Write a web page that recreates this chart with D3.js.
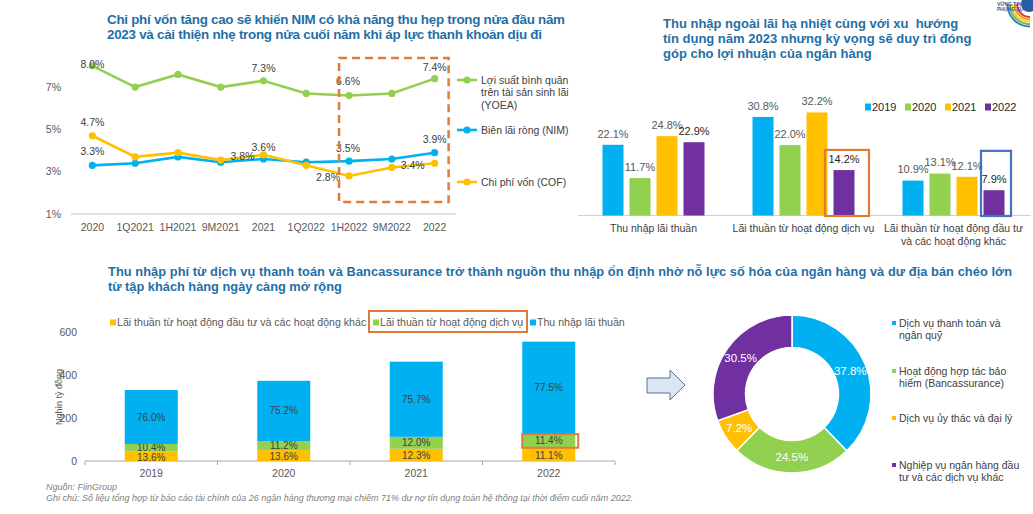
<!DOCTYPE html>
<html><head><meta charset="utf-8">
<script src="https://cdn.jsdelivr.net/npm/d3@7"></script>
<style>body{margin:0;background:#fff}svg{display:block;font-family:"Liberation Sans",Arial,sans-serif}</style>
</head><body><svg id="c" width="1033" height="514"></svg>
<script>
// ---------- DATA ----------
const lineCategories = ["2020","1Q2021","1H2021","9M2021","2021","1Q2022","1H2022","9M2022","2022"];
const yoeaValues = [8.0, 7.0, 7.6, 7.0, 7.3, 6.7, 6.6, 6.7, 7.4];
const nimValues  = [3.3, 3.4, 3.7, 3.45, 3.6, 3.45, 3.5, 3.6, 3.9];
const cofValues  = [4.7, 3.7, 3.9, 3.55, 3.8, 3.3, 2.8, 3.2, 3.4];
const lineTicks = [1, 3, 5, 7];
const lineSeriesNames = ["Lợi suất bình quân trên tài sản sinh lãi (YOEA)", "Biên lãi ròng (NIM)", "Chi phí vốn (COF)"];

const barGroups = ["Thu nhập lãi thuần", "Lãi thuần từ hoạt động dịch vụ", "Lãi thuần từ hoạt động đầu tư và các hoạt động khác"];
const barYears = ["2019", "2020", "2021", "2022"];
const bar2019 = [22.1, 30.8, 10.9];
const bar2020 = [11.7, 22.0, 13.1];
const bar2021 = [24.8, 32.2, 12.1];
const bar2022 = [22.9, 14.2, 7.9];

const stackYears = ["2019", "2020", "2021", "2022"];
const stackTotals = [330, 373, 462, 555];
const shareOther   = [13.6, 13.6, 12.3, 11.1];
const shareService = [10.4, 11.2, 12.0, 11.4];
const shareNII     = [76.0, 75.2, 75.7, 77.5];
const stackTicks = [0, 200, 400, 600];
const stackSeriesNames = ["Lãi thuần từ hoạt động đầu tư và các hoạt động khác", "Lãi thuần từ hoạt động dịch vụ", "Thu nhập lãi thuần"];

const donutLabels = ["Dịch vụ thanh toán và ngân quỹ", "Hoạt động hợp tác bảo hiểm (Bancassurance)", "Dịch vụ ủy thác và đại lý", "Nghiệp vụ ngân hàng đầu tư và các dịch vụ khác"];
const donutValues = [37.8, 24.5, 7.2, 30.5];

// ---------- STYLE ----------
const COL = {green:"#92d050", blue:"#00b0f0", yellow:"#ffc000", purple:"#7030a0", orange:"#e07b39", title:"#1f6fa6", txt:"#595959", dark:"#404040"};
const svg = d3.select("#c");
const fmt = v => v.toFixed(1) + "%";

function wrap(sel, width, lh) {
  sel.each(function() {
    const t = d3.select(this), words = t.text().split(/\s+/), x = t.attr("x"), y = +t.attr("y"), dy = t.attr("dy") || 0;
    t.text(null).attr("dy", null);
    let line = [], n = 0;
    let ts = t.append("tspan").attr("x", x).attr("y", y).attr("dy", dy);
    for (const w of words) {
      line.push(w); ts.text(line.join(" "));
      if (ts.node().getComputedTextLength() > width && line.length > 1) {
        line.pop(); ts.text(line.join(" ")); line = [w]; n++;
        ts = t.append("tspan").attr("x", x).attr("y", y + n * lh).attr("dy", dy).text(w);
      }
    }
  });
}

// ---------- TITLES ----------
function title(x, y, lines, fs, lens) {
  svg.append("text").attr("font-weight", "bold").attr("font-size", fs).attr("fill", COL.title).style("white-space", "pre")
    .selectAll("tspan").data(lines).join("tspan").attr("x", x).attr("y", (d, i) => y + i * 15)
    .attr("textLength", (d, i) => lens && lens[i] ? lens[i] : null).attr("lengthAdjust", "spacing").text(d => d);
}
title(107, 24, ["Chi phí vốn tăng cao sẽ khiến NIM có khả năng thu hẹp trong nửa đầu năm", "2023 và cải thiện nhẹ trong nửa cuối năm khi áp lực thanh khoản dịu đi"], 13.4, [458, 435]);
title(663, 28, ["Thu nhập ngoài lãi hạ nhiệt cùng với xu  hướng", "tín dụng năm 2023 nhưng kỳ vọng sẽ duy trì đóng", "góp cho lợi nhuận của ngân hàng"], 13);
title(108, 276, ["Thu nhập phí từ dịch vụ thanh toán và Bancassurance trở thành nguồn thu nhập ổn định nhờ nỗ lực số hóa của ngân hàng và dư địa bán chéo lớn", "từ tập khách hàng ngày càng mở rộng"], 12.8, [904, null]);

// ---------- LINE CHART ----------
{
  const x = d3.scaleBand().domain(lineCategories).range([71, 456]);
  const cx = d => x(d) + x.bandwidth() / 2;
  const y = d3.scaleLinear().domain([1, 9]).range([214, 44.8]);
  const g = svg.append("g");
  g.append("line").attr("x1", 71).attr("x2", 456).attr("y1", y(1)).attr("y2", y(1)).attr("stroke", "#bfbfbf");
  g.selectAll(".yt").data(lineTicks).join("text").attr("x", 61).attr("y", d => y(d)).attr("dy", "0.35em")
    .attr("text-anchor", "end").attr("font-size", 10.5).attr("fill", COL.txt).text(d => d + "%");
  g.selectAll(".xt").data(lineCategories).join("text").attr("x", d => cx(d)).attr("y", 227).attr("dy", "0.35em")
    .attr("text-anchor", "middle").attr("font-size", 10.5).attr("fill", COL.txt).text(d => d);
  const series = [{v: yoeaValues, c: COL.green}, {v: nimValues, c: COL.blue}, {v: cofValues, c: COL.yellow}];
  const line = d3.line().x((d, i) => cx(lineCategories[i])).y(d => y(d));
  series.forEach(s => {
    g.append("path").attr("d", line(s.v)).attr("fill", "none").attr("stroke", s.c).attr("stroke-width", 2.6);
    g.selectAll(null).data(s.v).join("circle").attr("cx", (d, i) => cx(lineCategories[i])).attr("cy", d => y(d)).attr("r", 3.6).attr("fill", s.c);
  });
  const labelSpec = [
    {s:0,i:0,dx:0,dy:-2},{s:0,i:4,dx:0,dy:-12},{s:0,i:6,dx:-1,dy:-14},{s:0,i:8,dx:0,dy:-11},
    {s:2,i:0,dx:0,dy:-13},{s:1,i:0,dx:0,dy:-14},{s:1,i:4,dx:0,dy:-12},{s:2,i:4,dx:-21,dy:2},
    {s:1,i:6,dx:-1,dy:-13},{s:1,i:8,dx:0,dy:-13},{s:2,i:6,dx:-21,dy:1},{s:2,i:8,dx:-22,dy:2}];
  g.selectAll(".dl").data(labelSpec).join("text")
    .attr("x", d => cx(lineCategories[d.i]) + d.dx).attr("y", d => y(series[d.s].v[d.i]) + d.dy).attr("dy", "0.35em")
    .attr("text-anchor", "middle").attr("font-size", 10.5).attr("fill", COL.dark).text(d => fmt(series[d.s].v[d.i]));
  // highlight box
  const bx0 = cx("1H2022") - 10, bx1 = cx("2022") + 14;
  g.append("rect").attr("x", bx0).attr("y", y(8.38)).attr("width", bx1 - bx0).attr("height", y(1.57) - y(8.38))
    .attr("fill", "none").attr("stroke", COL.orange).attr("stroke-width", 2.5).attr("stroke-dasharray", "8,5");
  // legend
  const legY = [80, 130, 182];
  const lg = g.selectAll(".lg").data(series).join("g").attr("transform", (d, i) => `translate(457,${legY[i]})`);
  lg.append("line").attr("x1", 0).attr("x2", 20).attr("stroke", d => d.c).attr("stroke-width", 2.6);
  lg.append("circle").attr("cx", 10).attr("r", 3.6).attr("fill", d => d.c);
  lg.append("text").attr("x", 24).attr("y", 0).attr("dy", "0.35em").attr("font-size", 10.5).attr("fill", COL.dark)
    .text((d, i) => lineSeriesNames[i]).call(wrap, 96, 12.5);
}

// ---------- GROUPED BAR CHART ----------
{
  const yearVals = [bar2019, bar2020, bar2021, bar2022];
  const yc = [COL.blue, COL.green, COL.yellow, COL.purple];
  const x0 = d3.scaleBand().domain(barGroups).range([578.5, 1028.5]);
  const x1 = d3.scaleBand().domain(barYears).range([21, 129]).paddingInner(0.222).paddingOuter(0.111);
  const y = d3.scaleLinear().domain([0, 35]).range([215.5, 103.5]);
  const g = svg.append("g");
  g.append("line").attr("x1", 578).attr("x2", 1031).attr("y1", y(0)).attr("y2", y(0)).attr("stroke", "#d0d0d0");
  const data = [];
  barGroups.forEach((gr, gi) => barYears.forEach((yr, yi) => data.push({gr, yr, yi, v: yearVals[yi][gi]})));
  g.selectAll(".b").data(data).join("rect").attr("x", d => x0(d.gr) + x1(d.yr)).attr("y", d => y(d.v))
    .attr("width", x1.bandwidth()).attr("height", d => y(0) - y(d.v)).attr("fill", d => yc[d.yi]);
  g.selectAll(".bl").data(data).join("text").attr("x", d => x0(d.gr) + x1(d.yr) + x1.bandwidth() / 2)
    .attr("y", d => y(d.v) - 11).attr("dy", "0.35em").attr("text-anchor", "middle").attr("font-size", 11)
    .attr("fill", d => d.yi === 3 ? "#262626" : COL.txt).text(d => fmt(d.v));
  g.selectAll(".gl").data(barGroups).join("text").attr("x", d => x0(d) + x0.bandwidth() / 2).attr("y", 232)
    .attr("text-anchor", "middle").attr("font-size", 10.5).attr("fill", COL.dark).text(d => d).call(wrap, 150, 13);
  // highlight boxes
  const bxs = [{gr: barGroups[1], l: 8.5, r: 14.5, top: 20.5, c: COL.orange}, {gr: barGroups[2], l: 2.5, r: 6.5, top: 20.2, c: "#4472c4"}];
  g.selectAll(".hb").data(bxs).join("rect").attr("x", d => x0(d.gr) + x1("2022") - d.l).attr("y", d => y(d.top))
    .attr("width", d => x1.bandwidth() + d.l + d.r).attr("height", d => y(0) - y(d.top) + 0.5)
    .attr("fill", "none").attr("stroke", d => d.c).attr("stroke-width", 2.2);
  // legend
  const lg = g.selectAll(".lg").data(barYears).join("g").attr("transform", (d, i) => `translate(${865 + i * 40},107)`);
  lg.append("rect").attr("x", 0).attr("y", -3.5).attr("width", 6).attr("height", 7).attr("fill", (d, i) => yc[i]);
  lg.append("text").attr("x", 7).attr("dy", "0.35em").attr("font-size", 11).attr("fill", "#262626").text(d => d);
}

// ---------- STACKED BAR CHART ----------
{
  const rows = stackYears.map((yr, i) => ({yr, other: stackTotals[i] * shareOther[i] / 100, service: stackTotals[i] * shareService[i] / 100, nii: stackTotals[i] * shareNII[i] / 100,
    p: {other: shareOther[i], service: shareService[i], nii: shareNII[i]}}));
  const keys = ["other", "service", "nii"];
  const kc = {other: COL.yellow, service: COL.green, nii: COL.blue};
  const stacked = d3.stack().keys(keys)(rows);
  const x = d3.scaleBand().domain(stackYears).range([85, 615]).paddingInner(0.6).paddingOuter(0.3);
  const y = d3.scaleLinear().domain([0, 600]).range([461, 332]);
  const g = svg.append("g");
  g.append("line").attr("x1", 85).attr("x2", 615).attr("y1", y(0)).attr("y2", y(0)).attr("stroke", "#a6a6a6");
  const bnds = d3.range(stackYears.length + 1).map(i => 85 + i * x.step());
  g.selectAll(".tk").data(bnds).join("line").attr("x1", d => d).attr("x2", d => d).attr("y1", y(0)).attr("y2", y(0) + 4).attr("stroke", "#a6a6a6");
  g.selectAll(".yt").data(stackTicks).join("text").attr("x", 77).attr("y", d => y(d)).attr("dy", "0.35em")
    .attr("text-anchor", "end").attr("font-size", 10.5).attr("fill", COL.txt).text(d => d);
  g.selectAll(".xt").data(stackYears).join("text").attr("x", d => x(d) + x.bandwidth() / 2).attr("y", 473).attr("dy", "0.35em")
    .attr("text-anchor", "middle").attr("font-size", 10.5).attr("fill", COL.txt).text(d => d);
  g.append("text").attr("transform", "translate(59,397) rotate(-90)").attr("text-anchor", "middle").attr("dy", "0.35em")
    .attr("font-size", 9).attr("fill", COL.txt).text("Nghìn tỷ đồng");
  stacked.forEach(s => {
    g.selectAll(null).data(s).join("rect").attr("x", d => x(d.data.yr)).attr("y", d => y(d[1])).attr("width", x.bandwidth())
      .attr("height", d => y(d[0]) - y(d[1])).attr("fill", kc[s.key]);
    g.selectAll(null).data(s).join("text").attr("x", d => x(d.data.yr) + x.bandwidth() / 2).attr("y", d => (y(d[0]) + y(d[1])) / 2 + (s.key === "other" ? 1 : 0))
      .attr("dy", "0.35em").attr("text-anchor", "middle").attr("font-size", 10).attr("fill", COL.dark).text(d => fmt(d.data.p[s.key]));
  });
  // highlight on 2022 service
  const hs = stacked[1][3];
  g.append("rect").attr("x", x("2022")).attr("y", y(hs[1])).attr("width", x.bandwidth() + 3).attr("height", y(hs[0]) - y(hs[1]))
    .attr("fill", "none").attr("stroke", COL.orange).attr("stroke-width", 2);
  // legend
  const legX = [110, 373, 530];
  const lg = g.selectAll(".lg").data(stackSeriesNames).join("g").attr("transform", (d, i) => `translate(${legX[i]},322.5)`);
  lg.append("rect").attr("y", -3).attr("width", 6).attr("height", 6).attr("fill", (d, i) => kc[keys[i]]);
  lg.append("text").attr("x", 7).attr("dy", "0.35em").attr("font-size", 10.6).attr("fill", COL.txt).text(d => d);
  g.append("rect").attr("x", 369).attr("y", 311).attr("width", 158).attr("height", 21).attr("fill", "none").attr("stroke", COL.orange).attr("stroke-width", 2);
}

// ---------- ARROW ----------
svg.append("path").attr("d", "M647,378 L670,378 L670,370 L685,385 L670,400 L670,393 L647,393 Z")
  .attr("fill", "#dce6f2").attr("stroke", "#56718f").attr("stroke-width", 1);

// ---------- DONUT ----------
{
  const dc = [COL.blue, COL.green, COL.yellow, COL.purple];
  const pie = d3.pie().sort(null).value(d => d);
  const arc = d3.arc().innerRadius(46.5).outerRadius(79);
  const g = svg.append("g").attr("transform", "translate(792,394)");
  const arcs = pie(donutValues);
  g.selectAll("path").data(arcs).join("path").attr("d", arc).attr("fill", (d, i) => dc[i]).attr("stroke", "#fff").attr("stroke-width", 1.5);
  g.selectAll("text").data(arcs).join("text").attr("transform", d => `translate(${arc.centroid(d)})`).attr("dy", "0.35em")
    .attr("text-anchor", "middle").attr("font-size", 11.5).attr("fill", "#fff").text(d => fmt(d.data));
  const legY = [323, 371, 418, 465];
  const lg = svg.append("g").selectAll("g").data(donutLabels).join("g").attr("transform", (d, i) => `translate(892,${legY[i]})`);
  lg.append("rect").attr("x", 0).attr("y", -2).attr("width", 4).attr("height", 4).attr("fill", (d, i) => dc[i]);
  lg.append("text").attr("x", 7).attr("y", 0).attr("dy", "0.35em").attr("font-size", 10.5).attr("fill", COL.dark).text(d => d).call(wrap, 123.5, 12.5);
}

// ---------- FOOTER ----------
svg.append("text").attr("x", 46).attr("y", 490).attr("font-size", 9).attr("font-style", "italic").attr("fill", "#7f7f7f").text("Nguồn: FiinGroup");
svg.append("text").attr("x", 46).attr("y", 501).attr("font-size", 9).attr("font-style", "italic").attr("fill", "#7f7f7f")
  .text("Ghi chú: Số liệu tổng hợp từ báo cáo tài chính của 26 ngân hàng thương mại chiếm 71% dư nợ tín dụng toàn hệ thống tại thời điểm cuối năm 2022.");

// ---------- LOGO (corner) ----------
{
  const g = svg.append("g").attr("transform", "translate(1030,4)");
  const cols = ["#e03c31", "#f39c12", "#f4d03f", "#7dbb42", "#2e86c1"];
  cols.forEach((c, i) => g.append("path").attr("d", d3.arc().innerRadius(12 + i * 2.4).outerRadius(14 + i * 2.4).startAngle(Math.PI * 1.0).endAngle(Math.PI * 1.5)()).attr("fill", c));
  g.append("circle").attr("cx", -1).attr("cy", 0).attr("r", 8).attr("fill", "#2a5caa");
  svg.append("text").attr("x", 997).attr("y", 6).attr("font-size", 5).attr("font-weight", "bold").attr("fill", "#2a5caa").text("VỮNG TIN");
  svg.append("text").attr("x", 997).attr("y", 11).attr("font-size", 5).attr("font-weight", "bold").attr("fill", "#2a5caa").text("PHỤNG SỰ");
}
</script></body></html>
